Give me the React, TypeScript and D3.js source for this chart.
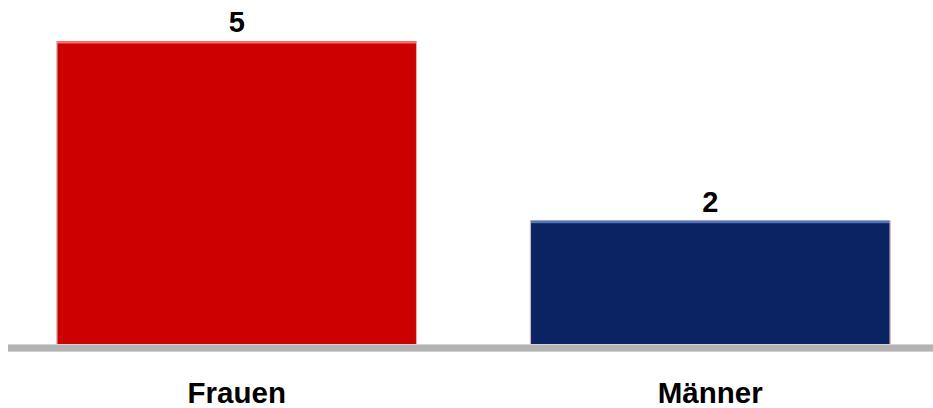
import React from "react";
import * as d3 from "d3";

const categories: string[] = ["Frauen", "Männer"];
const values: number[] = [5, 2];
const colors: string[] = ["#cc0000", "#0a2463"];
const highlights: string[] = ["#ff6a6a", "#5a72b8"];

const W = 933;
const H = 408;
const axisTop = 344;
const axisHeight = 8;

export default function App() {
  const x = d3
    .scaleBand<string>()
    .domain(categories)
    .range([0, 947])
    .paddingInner(0.24)
    .paddingOuter(0.12);

  const y = d3.scaleLinear().domain([0, 5]).range([340.5, 41]);

  const font = "'Liberation Sans', Arial, sans-serif";

  return (
    <svg
      width={W}
      height={H}
      style={{ position: "absolute", left: 0, top: 0, display: "block" }}
    >
      <rect x={0} y={0} width={W} height={H} fill="#ffffff" />
      {categories.map((c, i) => {
        const x0 = x(c)!;
        const bw = x.bandwidth();
        const top = y(values[i]);
        return (
          <g key={c}>
            <rect x={x0} y={top} width={bw} height={axisTop - top} fill={colors[i]} />
            <rect x={x0} y={top} width={bw} height={2.5} fill={highlights[i]} />
            <rect x={x0 - 0.5} y={top} width={1.2} height={axisTop - top} fill="#d8b4b4" />
            <rect x={x0 + bw - 0.7} y={top} width={1.2} height={axisTop - top} fill="#d8b4b4" />
            <text
              x={x0 + bw / 2}
              y={top - 9}
              textAnchor="middle"
              fontFamily={font}
              fontWeight="bold"
              fontSize={29}
              fill="#000"
            >
              {values[i]}
            </text>
            <text
              x={x0 + bw / 2}
              y={403}
              textAnchor="middle"
              fontFamily={font}
              fontWeight="bold"
              fontSize={29.5}
              fill="#000"
            >
              {c}
            </text>
          </g>
        );
      })}
      <rect x={8} y={axisTop} width={W - 8} height={axisHeight} fill="#b4b4b4" />
      <rect x={8} y={axisTop} width={W - 8} height={1} fill="#d4d4d4" />
      <rect x={8} y={axisTop + axisHeight - 1} width={W - 8} height={1} fill="#cfcfcf" />
    </svg>
  );
}
